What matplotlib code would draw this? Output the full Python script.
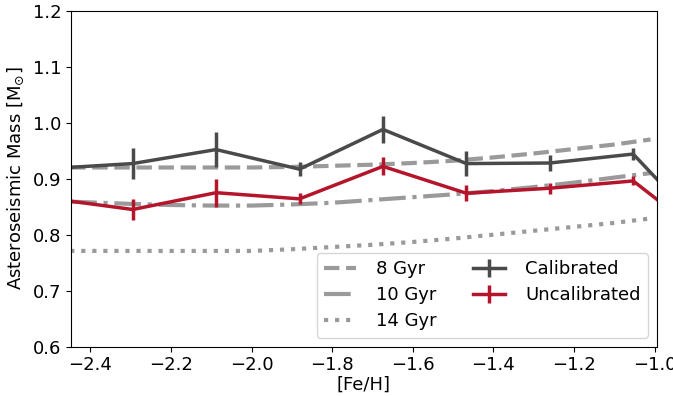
import matplotlib
matplotlib.use('Agg')
import matplotlib.pyplot as plt

# binned [Fe/H] centres
feh = [-2.502, -2.295, -2.088, -1.881, -1.674, -1.467, -1.260, -1.053, -0.846]

mass_cal = [0.918, 0.927, 0.952, 0.917, 0.988, 0.927, 0.928, 0.944, 0.786]
err_cal = [0.0, 0.028, 0.031, 0.012, 0.024, 0.022, 0.014, 0.011, 0.0]

mass_uncal = [0.865, 0.845, 0.875, 0.864, 0.922, 0.874, 0.883, 0.896, 0.780]
err_uncal = [0.0, 0.019, 0.025, 0.010, 0.016, 0.014, 0.010, 0.008, 0.0]

# isochrone tracks
iso_feh = [-2.45, -2.3, -2.2, -2.1, -2.0, -1.9, -1.8, -1.7, -1.6, -1.5, -1.4, -1.3, -1.2, -1.1, -1.01]
iso_8 = [0.920, 0.920, 0.920, 0.920, 0.920, 0.921, 0.923, 0.925, 0.928, 0.932, 0.938, 0.945, 0.953, 0.961, 0.970]
iso_10 = [0.859, 0.855, 0.853, 0.852, 0.852, 0.854, 0.857, 0.862, 0.867, 0.872, 0.878, 0.885, 0.893, 0.902, 0.910]
iso_14 = [0.771, 0.771, 0.771, 0.771, 0.771, 0.774, 0.778, 0.782, 0.787, 0.793, 0.800, 0.807, 0.814, 0.821, 0.829]

fig, ax = plt.subplots(figsize=(6.73, 3.96), dpi=100)
fig.subplots_adjust(left=0.1055, right=0.9762, top=0.973, bottom=0.1245)

iso_col = '#9a9a9a'
ax.plot(iso_feh, iso_8, ls='--', color=iso_col, lw=3, label='8 Gyr')
ax.plot(iso_feh, iso_10, ls='-.', color=iso_col, lw=3, label='10 Gyr')
ax.plot(iso_feh, iso_14, ls=':', color=iso_col, lw=3, label='14 Gyr')

ax.errorbar(feh, mass_cal, yerr=err_cal, color='#4a4a4a', lw=2.5, elinewidth=2.5,
            capsize=0, label='Calibrated')
ax.errorbar(feh, mass_uncal, yerr=err_uncal, color='#b5152b', lw=2.5, elinewidth=2.5,
            capsize=0, label='Uncalibrated')

ax.set_xlim(-2.448, -0.994)
ax.set_ylim(0.6, 1.2)
ax.set_xlabel('[Fe/H]', fontsize=13, labelpad=1)
ax.set_ylabel(r'Asteroseismic Mass [M$_{\odot}$]', fontsize=13, labelpad=5)
ax.tick_params(labelsize=13)
ax.legend(ncol=2, loc='lower right', fontsize=13, handlelength=1.8,
          handletextpad=1.1, columnspacing=2.0, labelspacing=0.45,
          borderaxespad=0.5)

fig.savefig('out.png', dpi=100)
